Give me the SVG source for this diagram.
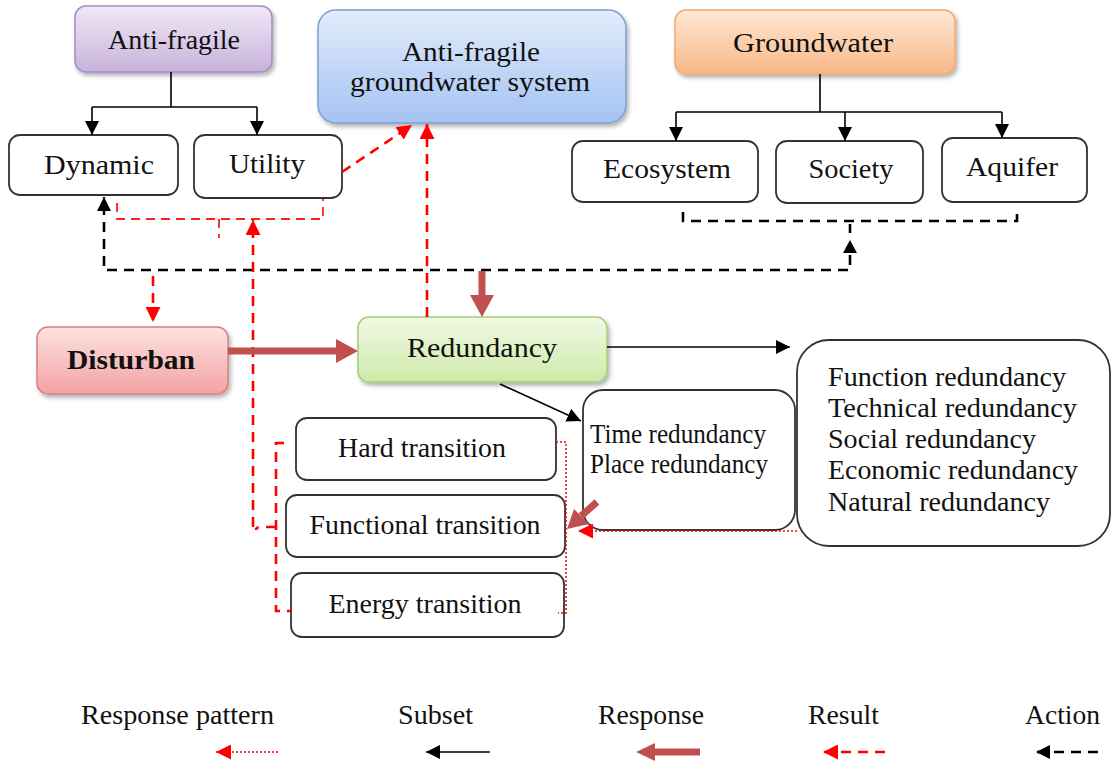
<svg xmlns="http://www.w3.org/2000/svg" width="1112" height="765" viewBox="0 0 1112 765">
<defs>
<linearGradient id="gPurple" x1="0" y1="0" x2="0" y2="1"><stop offset="0" stop-color="#f0e8f6"/><stop offset="1" stop-color="#c8b2dc"/></linearGradient>
<linearGradient id="gBlue" x1="0" y1="0" x2="0" y2="1"><stop offset="0" stop-color="#e2ecfb"/><stop offset="1" stop-color="#a4c3f2"/></linearGradient>
<linearGradient id="gOrange" x1="0" y1="0" x2="0" y2="1"><stop offset="0" stop-color="#fee8d6"/><stop offset="1" stop-color="#f9b886"/></linearGradient>
<linearGradient id="gPink" x1="0" y1="0" x2="0" y2="1"><stop offset="0" stop-color="#fde2e2"/><stop offset="1" stop-color="#f4a2a2"/></linearGradient>
<linearGradient id="gGreen" x1="0" y1="0" x2="0" y2="1"><stop offset="0" stop-color="#f1f9e5"/><stop offset="1" stop-color="#cdeaa8"/></linearGradient>
<filter id="sh" x="-10%" y="-10%" width="130%" height="140%"><feDropShadow dx="2" dy="3" stdDeviation="2" flood-color="#000" flood-opacity="0.3"/></filter>
<marker id="mb" viewBox="0 0 10 10" refX="10" refY="5" markerWidth="14" markerHeight="14" orient="auto" markerUnits="userSpaceOnUse"><path d="M0,0 L10,5 L0,10 z" fill="#000"/></marker>
<marker id="mr" viewBox="0 0 10 10" refX="10" refY="5" markerWidth="15" markerHeight="15" orient="auto" markerUnits="userSpaceOnUse"><path d="M0,0 L10,5 L0,10 z" fill="#ff0000"/></marker>
</defs>
<style>
.box{fill:#fff;stroke:#333;stroke-width:1.8}
.t{font-family:"Liberation Serif","Times New Roman",serif;fill:#111;font-size:28px}
.tm{text-anchor:middle}
.sub{fill:none;stroke:#000;stroke-width:1.6}
.act{fill:none;stroke:#000;stroke-width:2.6;stroke-dasharray:10 7}
.res{fill:none;stroke:#ff0000;stroke-width:2.6;stroke-dasharray:10 7}
.resb{fill:none;stroke:#ff2020;stroke-width:1.8;stroke-dasharray:9 6}
.pat{fill:none;stroke:#ff0000;stroke-width:1.5;stroke-dasharray:2 2}
.brl{fill:none;stroke:#c0504d;stroke-width:7}
.brh{fill:#c0504d}
</style>

<g id="node-antifragile">
<rect x="75" y="6" width="197" height="66" rx="11" fill="url(#gPurple)" stroke="#a48cc4" stroke-width="1.5" filter="url(#sh)"/>
<text class="t tm" x="174" y="49" textLength="132" lengthAdjust="spacingAndGlyphs">Anti-fragile</text>
</g>
<g id="node-afgs">
<rect x="318" y="10" width="308" height="113" rx="18" fill="url(#gBlue)" stroke="#7aa0d8" stroke-width="1.5" filter="url(#sh)"/>
<text class="t tm" x="471" y="61" textLength="138" lengthAdjust="spacingAndGlyphs">Anti-fragile</text>
<text class="t tm" x="470" y="91" textLength="240" lengthAdjust="spacingAndGlyphs">groundwater system</text>
</g>
<g id="node-groundwater">
<rect x="675" y="10" width="280" height="64" rx="11" fill="url(#gOrange)" stroke="#f3a96b" stroke-width="1.5" filter="url(#sh)"/>
<text class="t tm" x="813" y="52" textLength="160" lengthAdjust="spacingAndGlyphs">Groundwater</text>
</g>
<g id="node-dynamic">
<rect class="box" x="9" y="135" width="169" height="60" rx="11"/>
<text class="t tm" x="99" y="174" textLength="110" lengthAdjust="spacingAndGlyphs">Dynamic</text>
</g>
<g id="node-utility">
<rect class="box" x="194" y="135" width="148" height="63" rx="11"/>
<text class="t tm" x="267" y="173" textLength="76" lengthAdjust="spacingAndGlyphs">Utility</text>
</g>
<g id="node-ecosystem">
<rect class="box" x="572" y="141" width="186" height="61" rx="11"/>
<text class="t tm" x="667" y="178" textLength="128" lengthAdjust="spacingAndGlyphs">Ecosystem</text>
</g>
<g id="node-society">
<rect class="box" x="776" y="141" width="147" height="62" rx="11"/>
<text class="t tm" x="851" y="178" textLength="85" lengthAdjust="spacingAndGlyphs">Society</text>
</g>
<g id="node-aquifer">
<rect class="box" x="942" y="138" width="145" height="64" rx="11"/>
<text class="t tm" x="1012" y="176" textLength="92" lengthAdjust="spacingAndGlyphs">Aquifer</text>
</g>
<g id="node-disturban">
<rect x="37" y="327" width="191" height="67" rx="11" fill="url(#gPink)" stroke="#d88080" stroke-width="1.5" filter="url(#sh)"/>
<text class="t tm" x="131" y="369" font-weight="bold" textLength="128" lengthAdjust="spacingAndGlyphs">Disturban</text>
</g>
<g id="node-redundancy">
<rect x="358" y="317" width="249" height="65" rx="11" fill="url(#gGreen)" stroke="#a8cc78" stroke-width="1.5" filter="url(#sh)"/>
<text class="t tm" x="482" y="357" textLength="150" lengthAdjust="spacingAndGlyphs">Redundancy</text>
</g>
<g id="node-redundancy-types">
<rect class="box" x="797" y="340" width="313" height="206" rx="32"/>
<text class="t" x="828" y="386" font-size="26" textLength="238" lengthAdjust="spacingAndGlyphs">Function redundancy</text>
<text class="t" x="828" y="417" font-size="26" textLength="249" lengthAdjust="spacingAndGlyphs">Technical redundancy</text>
<text class="t" x="828" y="448" font-size="26" textLength="208" lengthAdjust="spacingAndGlyphs">Social redundancy</text>
<text class="t" x="828" y="479" font-size="26" textLength="250" lengthAdjust="spacingAndGlyphs">Economic redundancy</text>
<text class="t" x="828" y="511" font-size="26" textLength="222" lengthAdjust="spacingAndGlyphs">Natural redundancy</text>
</g>
<g id="node-time-place">
<rect class="box" x="583" y="390" width="212" height="140" rx="20"/>
<text class="t" x="590" y="443" font-size="23" textLength="176" lengthAdjust="spacingAndGlyphs">Time redundancy</text>
<text class="t" x="590" y="473" font-size="23" textLength="178" lengthAdjust="spacingAndGlyphs">Place redundancy</text>
</g>
<g id="node-hard">
<rect class="box" x="296" y="418" width="260" height="62" rx="11"/>
<text class="t tm" x="422" y="457" font-size="27" textLength="168" lengthAdjust="spacingAndGlyphs">Hard transition</text>
</g>
<g id="node-functional">
<rect class="box" x="286" y="495" width="279" height="62" rx="11"/>
<text class="t tm" x="425" y="534" font-size="27" textLength="231" lengthAdjust="spacingAndGlyphs">Functional transition</text>
</g>
<g id="node-energy">
<rect class="box" x="291" y="573" width="273" height="64" rx="11"/>
<text class="t tm" x="425" y="613" font-size="27" textLength="193" lengthAdjust="spacingAndGlyphs">Energy transition</text>
</g>

<g id="connectors">
<!-- subset trees -->
<path class="sub" d="M171,72 V107 M92,107 H257"/>
<path class="sub" d="M92,107 V135" marker-end="url(#mb)"/>
<path class="sub" d="M257,107 V135" marker-end="url(#mb)"/>
<path class="sub" d="M820,74 V112 M676,112 H1002"/>
<path class="sub" d="M676,112 V141" marker-end="url(#mb)"/>
<path class="sub" d="M845,112 V141" marker-end="url(#mb)"/>
<path class="sub" d="M1002,112 V138" marker-end="url(#mb)"/>
<!-- action (black dashed) -->
<path class="act" d="M683,212 V221 H1017 V212"/>
<path class="act" d="M850,224 V233"/>
<path class="act" d="M850,255 V270 H104 V197" marker-end="url(#mb)"/>
<path d="M843,253 L850,240 L857,253 z" fill="#000"/>
<!-- result (red dashed) -->
<path class="resb" d="M117,203 V219 H323 V199"/>
<path class="resb" d="M219,219 V238"/>
<path class="res" d="M253,527 V220" marker-end="url(#mr)"/>
<path class="res" d="M284,443 H276 V611 H291"/>
<path class="res" d="M276,527 H262 Q256,527 256,530"/>
<path class="res" d="M153,276 V322" marker-end="url(#mr)"/>
<path class="res" d="M427,317 V124" marker-end="url(#mr)"/>
<path class="res" d="M342,172 L412,125" marker-end="url(#mr)"/>
<!-- response (brown) -->
<path class="brl" d="M482,271 V297"/>
<path class="brh" d="M470,295 H494 L482,317 z"/>
<path class="brl" d="M228,351 H338"/>
<path class="brh" d="M336,339 L358,351 L336,363 z"/>
<path class="brl" d="M597,502 L581,516"/>
<path class="brh" d="M574,509 L589,524 L567,529 z"/>
<!-- subset arrows from redundancy -->
<path class="sub" d="M607,347 H790" marker-end="url(#mb)"/>
<path class="sub" d="M500,384 L581,421" marker-end="url(#mb)"/>
<!-- response pattern (red dotted) -->
<path class="pat" d="M556,442 H566 V613 H558"/>
<path class="pat" d="M797,531 H578" marker-end="url(#mr)"/>
</g>

<g id="legend">
<text class="t" x="81" y="724" font-size="26" textLength="193" lengthAdjust="spacingAndGlyphs">Response pattern</text>
<text class="t" x="398" y="724" font-size="26" textLength="75" lengthAdjust="spacingAndGlyphs">Subset</text>
<text class="t" x="598" y="724" font-size="26" textLength="106" lengthAdjust="spacingAndGlyphs">Response</text>
<text class="t" x="808" y="724" font-size="26" textLength="71" lengthAdjust="spacingAndGlyphs">Result</text>
<text class="t" x="1025" y="724" font-size="26" textLength="75" lengthAdjust="spacingAndGlyphs">Action</text>
<path class="pat" d="M278,752 H216" marker-end="url(#mr)"/>
<path class="sub" d="M490,752 H426" stroke-width="2.2" marker-end="url(#mb)"/>
<path class="brl" d="M700,752 H652" stroke-width="5"/>
<path class="brh" d="M655,743 L636,752 L655,761 z"/>
<path class="res" d="M885,752 H823" stroke-dasharray="8 6" marker-end="url(#mr)"/>
<path class="act" d="M1098,752 H1036" stroke-width="2" stroke-dasharray="8 5" marker-end="url(#mb)"/>
</g>
</svg>
